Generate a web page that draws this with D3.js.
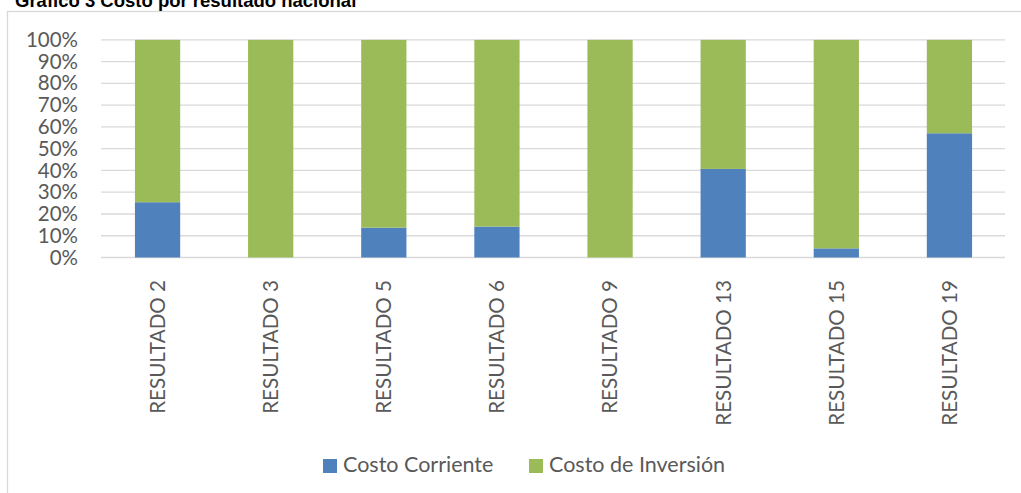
<!DOCTYPE html>
<html>
<head>
<meta charset="utf-8">
<script src="https://cdn.jsdelivr.net/npm/d3@7"></script>
<style>
  body { margin: 0; background: #fff; }
  svg { display: block; }
</style>
</head>
<body>
<svg id="chart"></svg>
<script>
// ---- data ----
const categories = ["RESULTADO 2", "RESULTADO 3", "RESULTADO 5", "RESULTADO 6",
                    "RESULTADO 9", "RESULTADO 13", "RESULTADO 15", "RESULTADO 19"];
const costoCorriente = [25.4, 0, 13.7, 14.2, 0, 40.7, 4.2, 57.1];   // % share
const costoInversion = costoCorriente.map(v => 100 - v);             // stacked to 100%
const seriesNames = ["Costo Corriente", "Costo de Inversión"];
const seriesColors = ["#4f81bd", "#9bbb59"];
const yTicks = [0, 10, 20, 30, 40, 50, 60, 70, 80, 90, 100];

const width = 1021, height = 493;
const svg = d3.select("#chart").attr("width", width).attr("height", height);

// chart frame (right/bottom edges fall outside the picture)
svg.append("rect")
  .attr("x", 7.5).attr("y", 11.5)
  .attr("width", 1040).attr("height", 500)
  .attr("fill", "#fff").attr("stroke", "#d9d9d9").attr("stroke-width", 1.3);

// title, mostly cut off at the top (as in the original)
svg.append("text")
  .attr("x", 15).attr("y", 7)
  .attr("font-family", "Liberation Sans, Arial, sans-serif")
  .attr("font-weight", "bold").attr("font-size", 18.5)
  .attr("fill", "#000")
  .text("Gráfico 3 Costo por resultado nacional");

const x = d3.scaleBand().domain(categories).range([101, 1006]).paddingInner(0.6).paddingOuter(0.3);
const y = d3.scaleLinear().domain([0, 100]).range([257.5, 39.9]);

const font = "Lato, 'Open Sans', sans-serif";

// gridlines
svg.append("g").selectAll("line").data(yTicks).join("line")
  .attr("x1", 101).attr("x2", 1005)
  .attr("y1", d => y(d)).attr("y2", d => y(d))
  .attr("stroke", "#d9d9d9").attr("stroke-width", 1.3);

// y axis labels
const yAxis = d3.axisLeft(y).tickValues(yTicks).tickFormat(d => d + "%").tickSize(0).tickPadding(0);
const yG = svg.append("g").attr("transform", "translate(78,0)").call(yAxis);
yG.select(".domain").remove();
yG.selectAll("text")
  .attr("font-family", font).attr("font-size", 20.5).attr("fill", "#595959");

// stacked bars
const stackData = categories.map((c, i) => ({ cat: c, a: costoCorriente[i], b: costoInversion[i] }));
const stack = d3.stack().keys(["a", "b"])(stackData);
svg.append("g").selectAll("g").data(stack).join("g")
  .attr("fill", (d, i) => seriesColors[i])
  .selectAll("rect").data(d => d).join("rect")
    .attr("x", d => x(d.data.cat))
    .attr("width", x.bandwidth())
    .attr("y", d => y(d[1]))
    .attr("height", d => y(d[0]) - y(d[1]));

// category labels (rotated)
svg.append("g").selectAll("text").data(categories).join("text")
  .attr("transform", d => `translate(${x(d) + x.bandwidth() / 2},280) rotate(-90)`)
  .attr("text-anchor", "end").attr("dy", "0.36em")
  .attr("font-family", font).attr("font-size", 20.6).attr("fill", "#595959")
  .text(d => d);

// legend
const legendX = [323, 529];
const lg = svg.append("g").selectAll("g").data(seriesNames).join("g")
  .attr("transform", (d, i) => `translate(${legendX[i]},459)`);
lg.append("rect").attr("width", 14).attr("height", 14).attr("fill", (d, i) => seriesColors[i]);
lg.append("text")
  .attr("x", 20).attr("y", 12.5)
  .attr("font-family", font).attr("font-size", 21.5).attr("fill", "#595959")
  .text(d => d);
</script>
</body>
</html>
